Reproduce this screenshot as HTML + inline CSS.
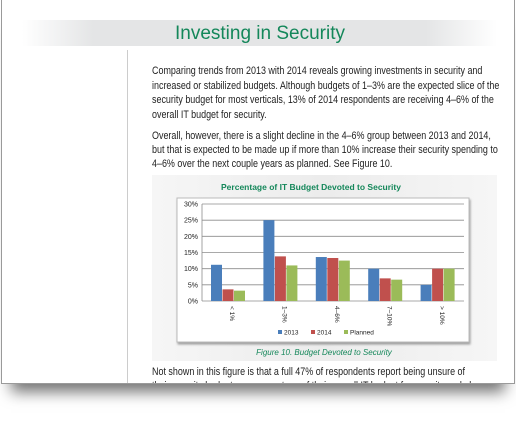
<!DOCTYPE html>
<html><head><meta charset="utf-8"><style>
body{margin:0;width:516px;height:427px;background:#fff;position:relative;overflow:hidden;font-family:"Liberation Sans",sans-serif}
.page{position:absolute;left:1px;top:0;width:512px;height:383px;border:1px solid #9a9a9a;border-top:none;background:#fff;overflow:hidden;box-shadow:0 18px 14px -10px rgba(0,0,0,0.55)}
.band{position:absolute;left:20px;top:20px;width:475px;height:26px;background:linear-gradient(90deg,#fff,#e4e5e6 15%,#e4e5e6 85%,#fff)}
.title{position:absolute;left:0;width:516px;top:23px;text-align:center;color:#14875a;font-size:19px}
.divider{position:absolute;left:125px;top:50px;width:1px;height:340px;background:#ccc}
.ln{position:absolute;left:150px;margin:0;font-size:10.6px;line-height:12px;color:#222;white-space:nowrap;transform:scaleX(0.845);transform-origin:0 0}
.fig{position:absolute;left:150px;top:175px;width:345px;height:186px;background:linear-gradient(90deg,#f6f6f6,#ececec 50%,#f6f6f6)}
</style></head><body>
<div class="page">
<div class="band"></div>
<div class="title">Investing in Security</div>
<div class="divider"></div>
<div>
<div class="ln" style="top:65px">Comparing trends from 2013 with 2014 reveals growing investments in security and</div>
<div class="ln" style="top:80px">increased or stabilized budgets. Although budgets of 1–3% are the expected slice of the</div>
<div class="ln" style="top:94px">security budget for most verticals, 13% of 2014 respondents are receiving 4–6% of the</div>
<div class="ln" style="top:109px">overall IT budget for security.</div>
</div>
<div>
<div class="ln" style="top:130px">Overall, however, there is a slight decline in the 4–6% group between 2013 and 2014,</div>
<div class="ln" style="top:144px">but that is expected to be made up if more than 10% increase their security spending to</div>
<div class="ln" style="top:158px">4–6% over the next couple years as planned. See Figure 10.</div>
</div>
<div class="fig"></div>
<svg id="chart" width="516" height="427" style="position:absolute;left:-1px;top:0"></svg>
<div>
<div class="ln" style="top:366px">Not shown in this figure is that a full 47% of respondents report being unsure of</div>
<div class="ln" style="top:380px">their security budget as a percentage of their overall IT budget for security and plan.</div>
</div>
</div>
<script>
const categories=["< 1%","1–3%","4–6%","7–10%","> 10%"];
const s2013=[11.2,25,13.6,10,5];
const s2014=[3.6,13.8,13.3,7,10];
const sPlanned=[3.2,11,12.5,6.6,10];
const ticks=[0,5,10,15,20,25,30];
const seriesNames=["2013","2014","Planned"];
const colors=["#4a7ebb","#c0504d","#9bbb59"];
const NS="http://www.w3.org/2000/svg";
const svg=document.getElementById('chart');
function mk(t,a,txt){const e=document.createElementNS(NS,t);for(const k in a)e.setAttribute(k,a[k]);if(txt!=null)e.textContent=txt;svg.appendChild(e);return e;}
const x0=201,x1=463,yTop=204,yBot=301,vmax=30;
const y=v=>yBot-(v/vmax)*(yBot-yTop);
const gw=(x1-x0)/categories.length;
let e;
e=mk('text',{x:310,y:190,'text-anchor':'middle','font-size':'8.5','font-weight':'bold',fill:'#14875a'},'Percentage of IT Budget Devoted to Security');

e=mk('rect',{x:176,y:198,width:292,height:144,fill:'#fff',stroke:'#bbb','stroke-width':1,style:'filter:drop-shadow(1px 2px 1px rgba(0,0,0,0.35))'});

ticks.forEach(t=>{
 e=mk('line',{x1:x0,x2:x1,y1:y(t),y2:y(t),stroke:'#8c8c8c','stroke-width':0.8});
 
 e=mk('text',{x:x0-4,y:y(t)+2.5,'text-anchor':'end','font-size':'7',fill:'#222'},t+'%');
 
});
e=mk('line',{x1:x0,x2:x0,y1:yTop,y2:yBot,stroke:'#8c8c8c','stroke-width':0.8});

const series=[s2013,s2014,sPlanned];
const bw=11.5;
categories.forEach((c,i)=>{
 const gx=x0+gw*i+9;
 series.forEach((s,j)=>{
  e=mk('rect',{x:gx+j*bw,y:y(s[i]),width:bw-0.5,height:yBot-y(s[i]),fill:colors[j]});
  
 });
 const cx=x0+gw*i+gw/2;
 e=mk('text',{x:cx+2,y:306,'text-anchor':'start','font-size':'6.5',fill:'#222',transform:`rotate(90 ${cx+2} 306)`},c);
 
});
seriesNames.forEach((n,j)=>{
 const lx=277+j*33;
 e=mk('rect',{x:lx,y:330,width:4,height:4,fill:colors[j]});
 
 e=mk('text',{x:lx+6,y:334.5,'font-size':'6.5',fill:'#222'},n);
 
});
e=mk('text',{x:323,y:355,'text-anchor':'middle','font-size':'8','font-style':'italic',fill:'#14875a'},'Figure 10. Budget Devoted to Security');

</script>
</body></html>
